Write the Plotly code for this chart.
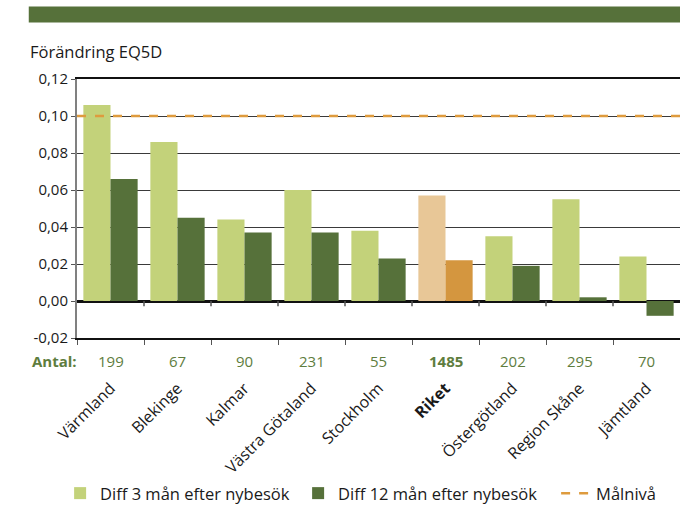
import plotly.graph_objects as go

# data
regions = ["Värmland", "Blekinge", "Kalmar", "Västra Götaland", "Stockholm",
           "Riket", "Östergötland", "Region Skåne", "Jämtland"]
antal = ["199", "67", "90", "231", "55", "1485", "202", "295", "70"]
diff_3m = [0.106, 0.086, 0.044, 0.060, 0.038, 0.057, 0.035, 0.055, 0.024]
diff_12m = [0.066, 0.045, 0.037, 0.037, 0.023, 0.022, 0.019, 0.002, -0.008]
malniva = 0.10
y_ticks = [-0.02, 0.00, 0.02, 0.04, 0.06, 0.08, 0.10, 0.12]
y_ticktext = ["-0,02", "0,00", "0,02", "0,04", "0,06", "0,08", "0,10", "0,12"]

font = "Open Sans"
light = "#C3D27A"
dark = "#56713A"
riket_light = "#E8C797"
riket_dark = "#D4963F"
orange = "#DE9B3E"
green_txt = "#5E7D3E"
txt = "#1a1a1a"

light_colors = [riket_light if r == "Riket" else light for r in regions]
dark_colors = [riket_dark if r == "Riket" else dark for r in regions]
ticktext = ["<b>%s</b>" % r if r == "Riket" else r for r in regions]

fig = go.Figure()
fig.add_trace(go.Bar(x=regions, y=diff_3m, name="Diff 3 mån efter nybesök",
                     legendwidth=193,
                     marker=dict(color=light_colors, line=dict(width=0))))
fig.add_trace(go.Bar(x=regions, y=diff_12m, name="Diff 12 mån efter nybesök",
                     legendwidth=213,
                     marker=dict(color=dark_colors, line=dict(width=0))))
# legend entry for the target line
fig.add_trace(go.Scatter(x=[None], y=[None], mode="lines", name="Målnivå",
                         line=dict(color=orange, width=2.5, dash="dash")))

# target line across the whole plot
fig.add_shape(type="line", xref="paper", x0=0, x1=1, yref="y", y0=malniva, y1=malniva,
              line=dict(color=orange, width=2.5, dash="dash"), layer="above")

# green band at the top
fig.add_shape(type="rect", xref="paper", yref="paper", x0=-0.08, x1=1.0,
              y0=1.218, y1=1.280, fillcolor=dark, line=dict(width=0))

# small ticks under the zero line between the groups
for i in range(len(regions) - 1):
    fig.add_shape(type="line", xref="x", yref="y", x0=i + 0.5, x1=i + 0.5,
                  y0=0, y1=-0.0028, line=dict(color="#555", width=1.5))

# Antal row
fig.add_annotation(text="<b>Antal:</b>", xref="paper", yref="paper", x=0, y=-0.088,
                   xanchor="right", yanchor="middle", showarrow=False, xshift=2,
                   font=dict(family=font, size=15, color=green_txt))
for r, n in zip(regions, antal):
    label = "<b>%s</b>" % n if r == "Riket" else n
    fig.add_annotation(text=label, xref="x", yref="paper", x=r, y=-0.088,
                       yanchor="middle", showarrow=False,
                       font=dict(family=font, size=15, color=green_txt))

# y axis title
fig.add_annotation(text="Förändring EQ5D", xref="paper", yref="paper", x=-0.081, y=1.105,
                   xanchor="left", yanchor="middle", showarrow=False,
                   font=dict(family=font, size=16.5, color=txt))

fig.update_layout(
    width=680, height=511,
    margin=dict(l=77, r=0, t=79, b=171),
    paper_bgcolor="white", plot_bgcolor="white",
    font=dict(family=font, size=15, color=txt),
    barmode="group", bargap=0.19, bargroupgap=0.0,
    showlegend=True,
    legend=dict(orientation="h", x=-0.028, xanchor="left", y=-0.60, yanchor="middle",
                font=dict(family=font, size=16.5, color=txt),
                traceorder="normal", itemwidth=30),
)
fig.update_xaxes(
    tickangle=-45, tickfont=dict(family=font, size=16, color=txt),
    tickvals=regions, ticktext=ticktext,
    ticks="outside", tickson="boundaries", ticklen=5, tickcolor="#555",
    showline=True, mirror=True, linecolor="#111", linewidth=1.5,
    showgrid=False, ticklabelstandoff=33,
)
fig.update_yaxes(
    range=[-0.02, 0.12], tickvals=y_ticks, ticktext=y_ticktext,
    tickfont=dict(family=font, size=15, color=txt),
    showgrid=True, gridcolor="#3a3a3a", gridwidth=1.3,
    zeroline=True, zerolinecolor="#111", zerolinewidth=2.5,
    showline=True, linecolor="#808080", linewidth=2,
    ticks="outside", ticklen=4, tickcolor="#555",
)

fig.write_html("out.html", config={"displayModeBar": False},
               post_script="document.body.style.margin='0';")
